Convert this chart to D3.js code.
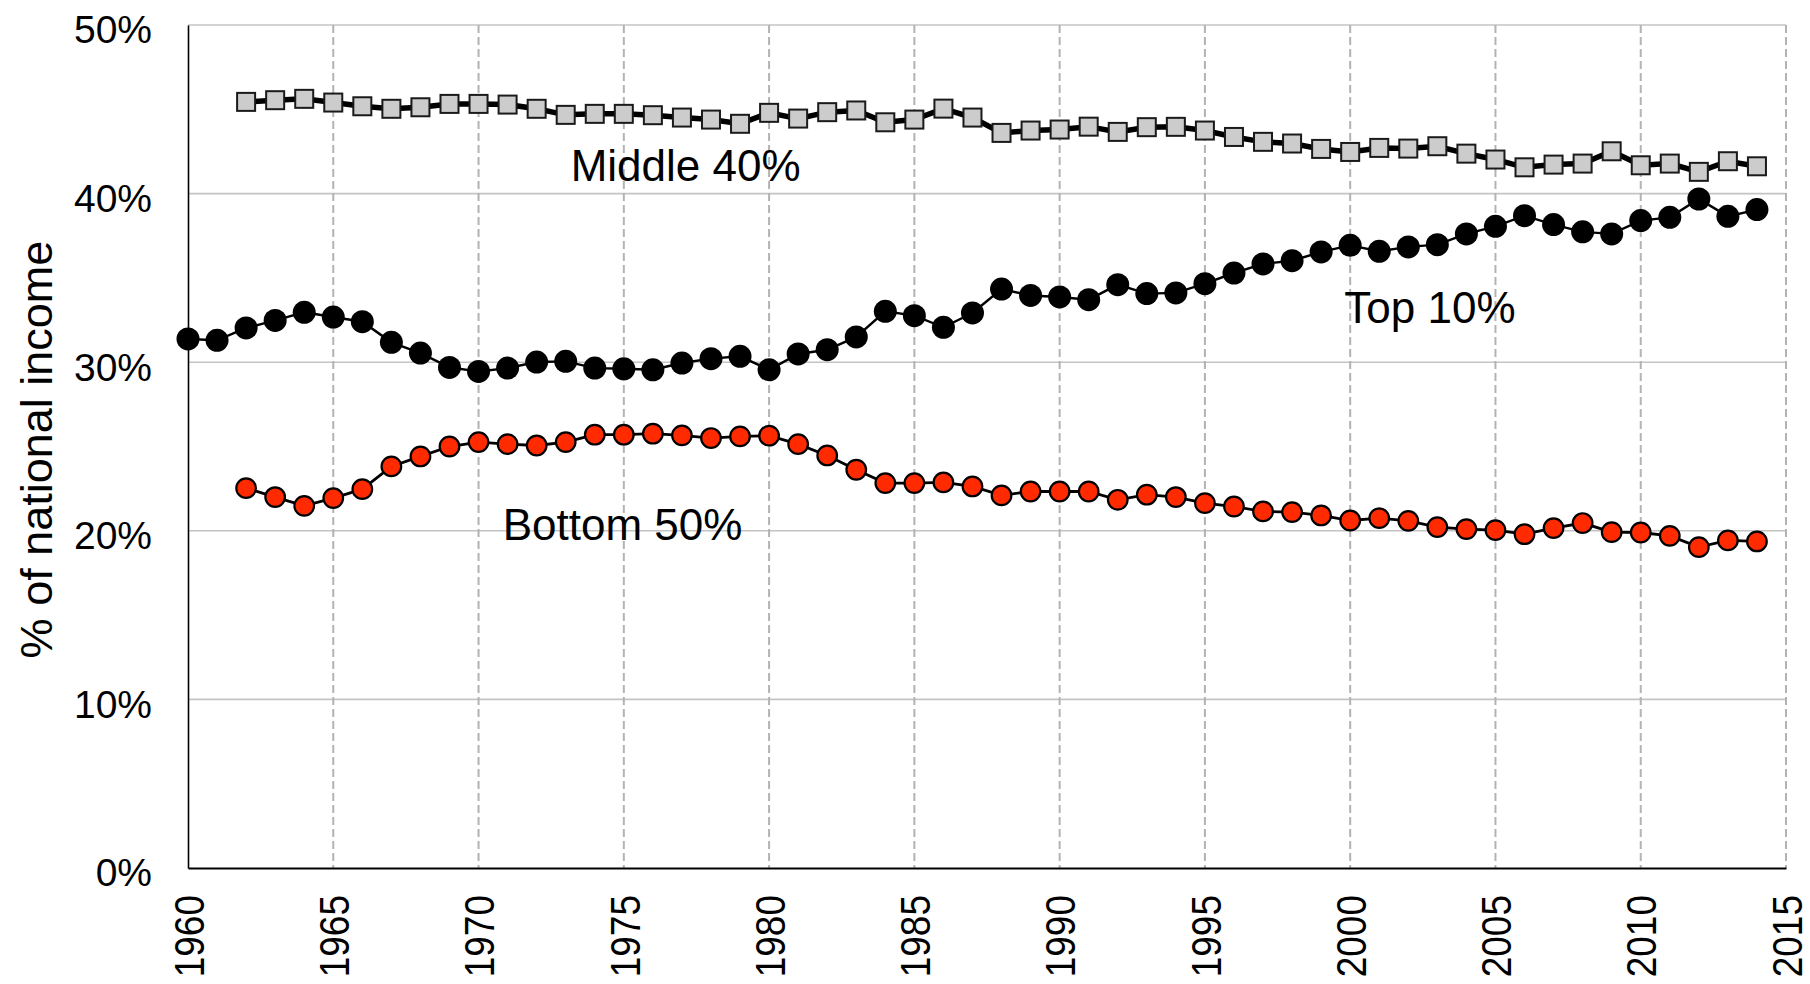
<!DOCTYPE html>
<html>
<head>
<meta charset="utf-8">
<script src="https://cdn.jsdelivr.net/npm/d3@7"></script>
<style>
  html, body { margin: 0; padding: 0; background: #fff; }
  svg { display: block; }
  text { font-family: "Liberation Sans", Arial, sans-serif; fill: #000; }
</style>
</head>
<body>
<svg id="chart" width="1810" height="984"></svg>
<script>
// ---- data ----
const top10Years = d3.range(1960, 2015);
const top10 = [31.38, 31.30, 32.03, 32.48, 32.96, 32.68, 32.40, 31.18, 30.54, 29.69,
               29.45, 29.65, 30.01, 30.05, 29.65, 29.61, 29.55, 29.95, 30.21, 30.35,
               29.55, 30.49, 30.74, 31.50, 33.02, 32.76, 32.07, 32.92, 34.34, 33.96,
               33.87, 33.71, 34.60, 34.07, 34.11, 34.66, 35.29, 35.83, 36.02, 36.54,
               36.93, 36.58, 36.84, 36.97, 37.61, 38.06, 38.69, 38.16, 37.73, 37.61,
               38.40, 38.59, 39.68, 38.65, 39.05];
const midYears = d3.range(1962, 2015);
const middle40 = [45.44, 45.54, 45.62, 45.40, 45.18, 45.03, 45.12, 45.32,
                  45.32, 45.28, 45.03, 44.67, 44.73, 44.73, 44.65, 44.51, 44.39, 44.14,
                  44.79, 44.45, 44.83, 44.93, 44.23, 44.39, 45.04, 44.51, 43.60, 43.74,
                  43.80, 43.97, 43.66, 43.94, 43.96, 43.74, 43.36, 43.07, 42.97, 42.65,
                  42.47, 42.71, 42.67, 42.81, 42.37, 42.02, 41.56, 41.72, 41.78, 42.51,
                  41.68, 41.78, 41.29, 41.92, 41.62];
const botYears = d3.range(1962, 2015);
const bottom50 = [22.53, 22.00, 21.48, 21.94, 22.47, 23.82, 24.41, 25.00,
                  25.26, 25.14, 25.06, 25.26, 25.70, 25.70, 25.76, 25.66, 25.50, 25.60,
                  25.64, 25.14, 24.47, 23.62, 22.83, 22.83, 22.87, 22.63, 22.10, 22.33,
                  22.33, 22.33, 21.84, 22.14, 22.00, 21.64, 21.44, 21.15, 21.11, 20.91,
                  20.61, 20.75, 20.59, 20.22, 20.10, 20.04, 19.80, 20.16, 20.46, 19.92,
                  19.90, 19.70, 19.03, 19.43, 19.37];
const xTicks = [1960, 1965, 1970, 1975, 1980, 1985, 1990, 1995, 2000, 2005, 2010, 2015];
const yTicks = [0, 10, 20, 30, 40, 50];
const labelNames = ["Middle 40%", "Top 10%", "Bottom 50%"];
const labelYears = [1973.17, 1999.8, 1970.83];
const labelValues = [40.75, 32.34, 19.45];
const yTitle = "% of national income";

// ---- layout ----
const W = 1810, H = 984;
const m = {left: 188, right: 24, top: 25, bottom: 116};
const svg = d3.select("#chart");
const x = d3.scaleLinear().domain([1960, 2015]).range([m.left, W - m.right]);
const y = d3.scaleLinear().domain([0, 50]).range([H - m.bottom, m.top]);

// horizontal gridlines
svg.append("g").selectAll("line").data(yTicks.filter(t => t > 0)).join("line")
  .attr("x1", x(1960)).attr("x2", x(2015))
  .attr("y1", d => y(d)).attr("y2", d => y(d))
  .attr("stroke", "#c4c4c4").attr("stroke-width", 1.6);

// vertical dashed gridlines
svg.append("g").selectAll("line").data(xTicks.filter(t => t > 1960)).join("line")
  .attr("x1", d => x(d)).attr("x2", d => x(d))
  .attr("y1", y(50)).attr("y2", y(0))
  .attr("stroke", "#b3b3b3").attr("stroke-width", 2)
  .attr("stroke-dasharray", "8,4");

// axes
const yAxis = d3.axisLeft(y).tickValues(yTicks).tickSize(0).tickFormat(d => d + "%");
const gy = svg.append("g").attr("transform", `translate(${x(1960)},0)`).call(yAxis);
gy.select(".domain").attr("stroke", "#000").attr("stroke-width", 1.6);
gy.selectAll(".tick text")
  .attr("x", -36).attr("dy", "0.46em")
  .style("font-size", "39px").style("font-family", "'Liberation Sans', Arial, sans-serif")
  .attr("fill", "#000");

const xAxis = d3.axisBottom(x).tickValues(xTicks).tickSize(0).tickFormat(d3.format("d"));
const gx = svg.append("g").attr("transform", `translate(0,${y(0)})`).call(xAxis);
gx.select(".domain").attr("stroke", "#000").attr("stroke-width", 2);
gx.selectAll(".tick text")
  .attr("transform", "translate(0,27) rotate(-90) scale(1,1.15)")
  .attr("x", 0).attr("y", 0).attr("dy", "0.358em")
  .attr("text-anchor", "end")
  .style("font-size", "37px").style("font-family", "'Liberation Sans', Arial, sans-serif")
  .attr("fill", "#000");

// y title
svg.append("text")
  .attr("transform", `translate(52,${(y(0) + y(50)) / 2 + 3}) rotate(-90)`)
  .attr("text-anchor", "middle")
  .style("font-size", "45px")
  .text(yTitle);

// series
const line = d3.line().x(d => x(d[0])).y(d => y(d[1]));
const botData = botYears.map((yr, i) => [yr, bottom50[i]]);
const topData = top10Years.map((yr, i) => [yr, top10[i]]);
const midData = midYears.map((yr, i) => [yr, middle40[i]]);

// Bottom 50%
svg.append("path").datum(botData).attr("d", line)
  .attr("fill", "none").attr("stroke", "#000").attr("stroke-width", 2.8);
svg.append("g").selectAll("circle").data(botData).join("circle")
  .attr("cx", d => x(d[0])).attr("cy", d => y(d[1])).attr("r", 9.8)
  .attr("fill", "#ff2a00").attr("stroke", "#000").attr("stroke-width", 2.2);

// Top 10%
svg.append("path").datum(topData).attr("d", line)
  .attr("fill", "none").attr("stroke", "#000").attr("stroke-width", 2.4);
svg.append("g").selectAll("circle").data(topData).join("circle")
  .attr("cx", d => x(d[0])).attr("cy", d => y(d[1])).attr("r", 11.5)
  .attr("fill", "#000");

// Middle 40%
svg.append("path").datum(midData).attr("d", line)
  .attr("fill", "none").attr("stroke", "#000").attr("stroke-width", 5.5);
const sq = 18;
svg.append("g").selectAll("rect").data(midData).join("rect")
  .attr("x", d => x(d[0]) - sq / 2).attr("y", d => y(d[1]) - sq / 2)
  .attr("width", sq).attr("height", sq)
  .attr("fill", "#cccccc").attr("stroke", "#1a1a1a").attr("stroke-width", 2);

// labels
svg.append("g").selectAll("text").data(labelNames).join("text")
  .attr("x", (d, i) => x(labelYears[i])).attr("y", (d, i) => y(labelValues[i]))
  .style("font-size", "44px")
  .text(d => d);
</script>
</body>
</html>
